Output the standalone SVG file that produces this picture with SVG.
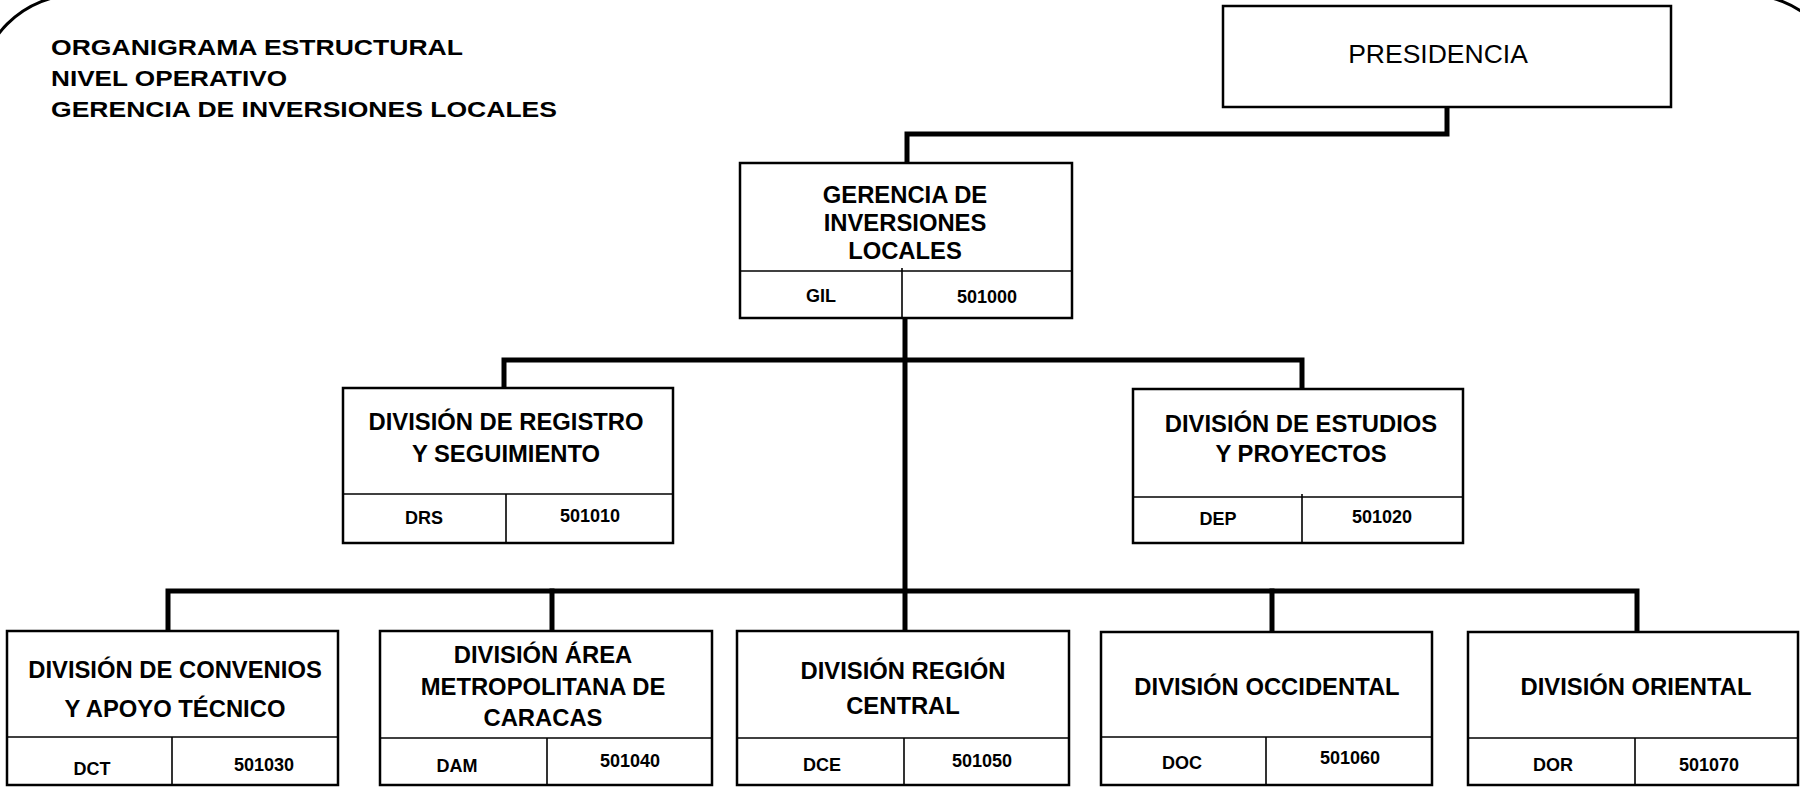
<svg xmlns="http://www.w3.org/2000/svg" width="1800" height="787" viewBox="0 0 1800 787">
<style>
text{font-family:"Liberation Sans",Arial,Helvetica,sans-serif;fill:#000}
.t{font-size:21.5px;font-weight:bold}
.n{font-size:23.8px;font-weight:bold;text-anchor:middle}
.c{font-size:18px;font-weight:bold;text-anchor:middle}
.box{fill:#fff;stroke:#000;stroke-width:2.5}
.div{stroke:#000;stroke-width:1.6;fill:none}
.con{stroke:#000;stroke-width:5;fill:none;stroke-linejoin:miter;stroke-linecap:square}
</style>
<rect x="-22" y="-5.4" width="1868" height="900" rx="100" ry="100" fill="none" stroke="#000" stroke-width="3"/>
<g id="title">
<text class="t" x="51" y="55" textLength="412" lengthAdjust="spacingAndGlyphs">ORGANIGRAMA ESTRUCTURAL</text>
<text class="t" x="51" y="86" textLength="236" lengthAdjust="spacingAndGlyphs">NIVEL OPERATIVO</text>
<text class="t" x="51" y="117" textLength="506" lengthAdjust="spacingAndGlyphs">GERENCIA DE INVERSIONES LOCALES</text>
</g>
<g id="connectors">
<path class="con" d="M1447,107 V134 H907 V163"/>
<path class="con" d="M905,318 V631"/>
<path class="con" d="M504,388 V360 H1302 V389"/>
<path class="con" d="M168,631 V591 H1637 V632"/>
<path class="con" d="M552,591 V631"/>
<path class="con" d="M1272,591 V632"/>
</g>
<g id="presidencia">
<rect class="box" x="1223" y="6" width="448" height="101"/>
<text x="1438" y="63" text-anchor="middle" font-size="26.5">PRESIDENCIA</text>
</g>
<g id="gil">
<rect class="box" x="740" y="163" width="332" height="155"/>
<line class="div" x1="740" y1="271" x2="1072" y2="271"/>
<line class="div" x1="902" y1="268" x2="902" y2="318"/>
<text class="n" x="905" y="203" font-size="23.5">GERENCIA DE</text>
<text class="n" x="905" y="231" font-size="23.5">INVERSIONES</text>
<text class="n" x="905" y="259" font-size="23.5">LOCALES</text>
<text class="c" x="821" y="302">GIL</text>
<text class="c" x="987" y="303">501000</text>
</g>
<g id="drs">
<rect class="box" x="343" y="388" width="330" height="155"/>
<line class="div" x1="343" y1="494" x2="673" y2="494"/>
<line class="div" x1="506" y1="494" x2="506" y2="543"/>
<text class="n" x="506" y="430">DIVISIÓN DE REGISTRO</text>
<text class="n" x="506" y="462">Y SEGUIMIENTO</text>
<text class="c" x="424" y="524">DRS</text>
<text class="c" x="590" y="522">501010</text>
</g>
<g id="dep">
<rect class="box" x="1133" y="389" width="330" height="154"/>
<line class="div" x1="1133" y1="497" x2="1463" y2="497"/>
<line class="div" x1="1302" y1="494" x2="1302" y2="543"/>
<text class="n" x="1301" y="432">DIVISIÓN DE ESTUDIOS</text>
<text class="n" x="1301" y="462">Y PROYECTOS</text>
<text class="c" x="1218" y="525">DEP</text>
<text class="c" x="1382" y="523">501020</text>
</g>
<g id="dct">
<rect class="box" x="7" y="631" width="331" height="154"/>
<line class="div" x1="7" y1="737" x2="338" y2="737"/>
<line class="div" x1="172" y1="737" x2="172" y2="785"/>
<text class="n" x="175" y="678">DIVISIÓN DE CONVENIOS</text>
<text class="n" x="175" y="717">Y APOYO TÉCNICO</text>
<text class="c" x="92" y="775">DCT</text>
<text class="c" x="264" y="771">501030</text>
</g>
<g id="dam">
<rect class="box" x="380" y="631" width="332" height="154"/>
<line class="div" x1="380" y1="738" x2="712" y2="738"/>
<line class="div" x1="547" y1="738" x2="547" y2="785"/>
<text class="n" x="543" y="663">DIVISIÓN ÁREA</text>
<text class="n" x="543" y="695">METROPOLITANA DE</text>
<text class="n" x="543" y="726">CARACAS</text>
<text class="c" x="457" y="772">DAM</text>
<text class="c" x="630" y="767">501040</text>
</g>
<g id="dce">
<rect class="box" x="737" y="631" width="332" height="154"/>
<line class="div" x1="737" y1="738" x2="1069" y2="738"/>
<line class="div" x1="904" y1="738" x2="904" y2="785"/>
<text class="n" x="903" y="679">DIVISIÓN REGIÓN</text>
<text class="n" x="903" y="714">CENTRAL</text>
<text class="c" x="822" y="771">DCE</text>
<text class="c" x="982" y="767">501050</text>
</g>
<g id="doc">
<rect class="box" x="1101" y="632" width="331" height="153"/>
<line class="div" x1="1101" y1="737" x2="1432" y2="737"/>
<line class="div" x1="1266" y1="737" x2="1266" y2="785"/>
<text class="n" x="1267" y="695">DIVISIÓN OCCIDENTAL</text>
<text class="c" x="1182" y="769">DOC</text>
<text class="c" x="1350" y="764">501060</text>
</g>
<g id="dor">
<rect class="box" x="1468" y="632" width="330" height="153"/>
<line class="div" x1="1468" y1="738" x2="1798" y2="738"/>
<line class="div" x1="1635" y1="738" x2="1635" y2="785"/>
<text class="n" x="1636" y="695">DIVISIÓN ORIENTAL</text>
<text class="c" x="1553" y="771">DOR</text>
<text class="c" x="1709" y="771">501070</text>
</g>
</svg>
